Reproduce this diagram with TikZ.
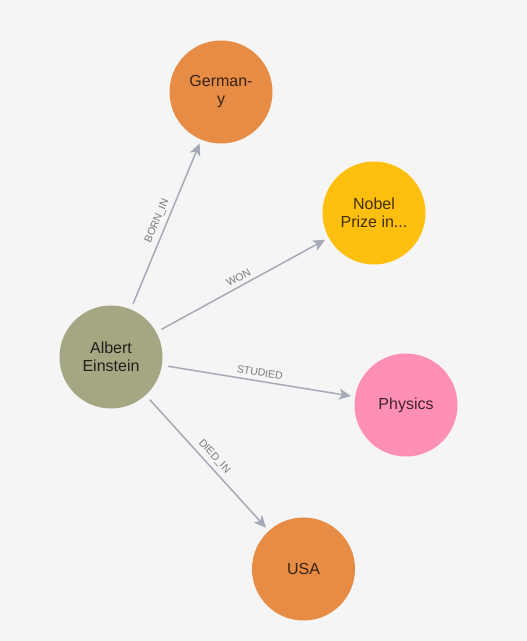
\documentclass[tikz,border=0pt]{standalone}
\usepackage{fontspec}
\setmainfont{Liberation Sans}
\usepackage{tikz}
\usetikzlibrary{arrows.meta, positioning}
\definecolor{bgcolor}{HTML}{F5F5F5}
\definecolor{personcolor}{HTML}{A5A682}
\definecolor{placecolor}{HTML}{E68C45}
\definecolor{awardcolor}{HTML}{FFBF0E}
\definecolor{fieldcolor}{HTML}{FF8FB3}
\definecolor{relcolor}{HTML}{A5ABB6}
\definecolor{relfont}{HTML}{7A7A7A}

\begin{document}
\begin{tikzpicture}[
    x=1pt, y=1pt,
    entity/.style={circle, minimum size=103pt, inner sep=0pt, align=center, font=\fontsize{16}{18}\selectfont},
    rel/.style={draw=relcolor, line width=1.5pt, -{Stealth[length=12pt, width=11pt, inset=3pt]}, shorten <=6pt, shorten >=4pt},
    rellabel/.style={sloped, above=3pt, inner sep=1pt, text=relfont, font=\fontsize{10.5}{12}\selectfont}
]

\fill[bgcolor] (0,0) rectangle (527,641);

\node[entity, fill=personcolor, text=personcolor!20!black] (einstein) at (111,284) {Albert\\Einstein};
\node[entity, fill=placecolor, text=placecolor!25!black] (germany) at (221,549) {German-\\y};
\node[entity, fill=awardcolor, text=awardcolor!25!black] (nobel) at (374,428) {Nobel\\Prize in...};
\node[entity, fill=fieldcolor, text=fieldcolor!25!black] (physics) at (406,236) {Physics};
\node[entity, fill=placecolor, text=placecolor!25!black] (usa) at (303.5,72) {USA};

\draw[rel] (einstein) -- node[rellabel] {BORN\_IN} (germany);
\draw[rel] (einstein) -- node[rellabel] {WON} (nobel);
\draw[rel] (einstein) -- node[rellabel] {STUDIED} (physics);
\draw[rel] (einstein) -- node[rellabel] {DIED\_IN} (usa);

\end{tikzpicture}
\end{document}
